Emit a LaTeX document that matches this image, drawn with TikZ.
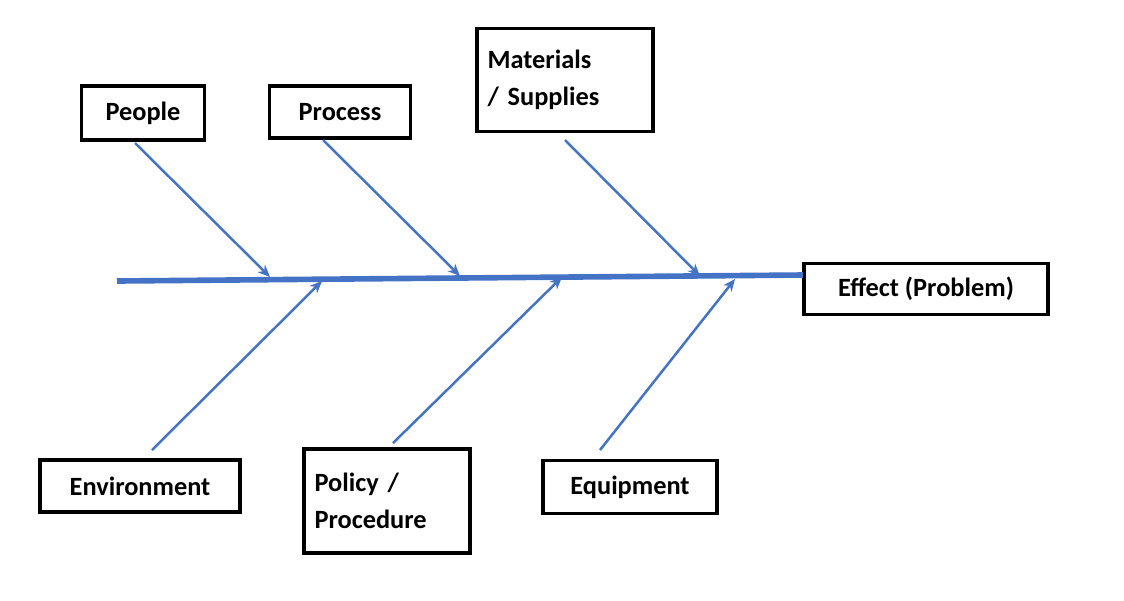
\documentclass[tikz,border=0pt]{standalone}
\usepackage{fontspec}
\setmainfont{Carlito}
\usetikzlibrary{arrows.meta}
\begin{document}
\begin{tikzpicture}[x=0.02cm,y=-0.02cm]
\tikzset{cause/.style = {draw,
                         line width     = 2.2pt,
                         text           = black,
                         font           = \fontsize{15}{21}\selectfont\bfseries,
                         align          = left,
                         inner sep      = 0pt},
         bone/.style  = {draw=boneblue, line width=1.4pt, -{Stealth[length=7pt,width=6pt]}}}
\definecolor{boneblue}{RGB}{68,114,196}
\useasboundingbox (0,0) rectangle (1124,600);
\node[cause,minimum width=2.46cm,minimum height=1.08cm] (people) at (143,113) {People};
\node[cause,minimum width=2.82cm,minimum height=1.04cm] (process) at (340,112) {Process};
\node[cause,minimum width=3.52cm,minimum height=2.06cm,text width=3.1cm] (materials) at (565,80) {Materials\\ / Supplies};
\node[cause,minimum width=4.88cm,minimum height=1.02cm] (effect) at (926,289) {Effect (Problem)};
\node[cause,minimum width=4.0cm,minimum height=1.04cm] (environment) at (140,486) {Environment};
\node[cause,minimum width=3.32cm,minimum height=2.08cm,text width=2.9cm] (policy) at (387,501) {Policy /\\ Procedure};
\node[cause,minimum width=3.48cm,minimum height=1.06cm] (equipment) at (630,487) {Equipment};
% spine
\coordinate (tail) at (117,281);
\coordinate (head) at (803,275);
\draw[boneblue,line width=3.2pt] (tail) -- (head);
% bones
\coordinate (p1) at (270,277);
\coordinate (p2) at (460,276);
\coordinate (p3) at (700,276);
\coordinate (q1) at (322,281);
\coordinate (q2) at (562,277);
\coordinate (q3) at (735,279);
\draw[bone] (135,143) -- (p1);
\draw[bone] (323,140) -- (p2);
\draw[bone] (565,140) -- (p3);
\draw[bone] (152,450) -- (q1);
\draw[bone] (393,443) -- (q2);
\draw[bone] (600,450) -- (q3);
\end{tikzpicture}
\end{document}
